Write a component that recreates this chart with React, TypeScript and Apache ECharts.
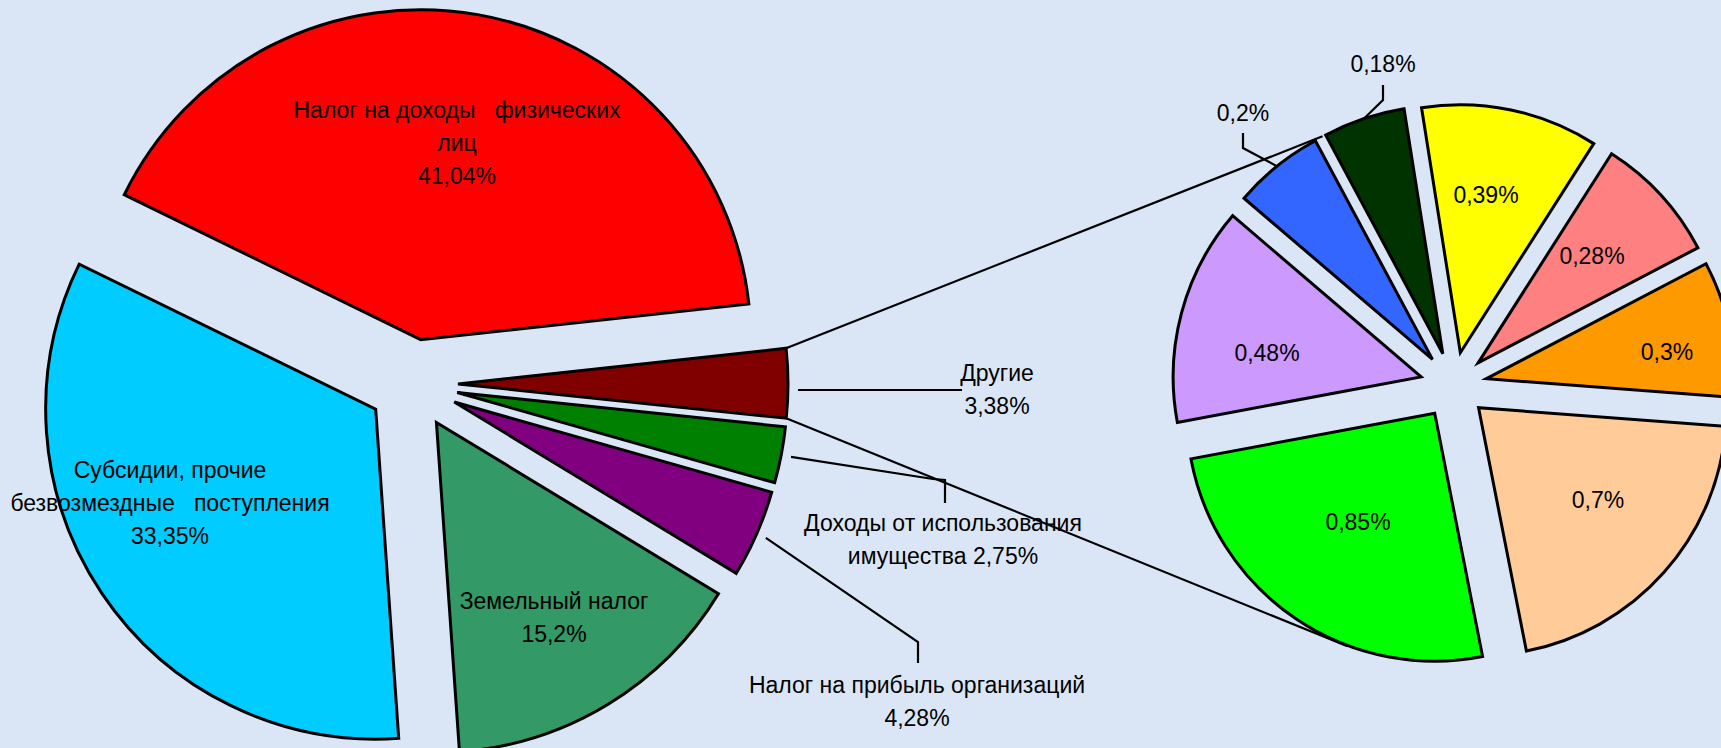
import React, { useEffect, useRef } from "react";
import * as echarts from "echarts";

// ---------- data ----------
const leftCategories = [
  "Другие",
  "Доходы от использования\nимущества",
  "Налог на прибыль организаций",
  "Земельный налог",
  "Субсидии, прочие\nбезвозмездные   поступления",
  "Налог на доходы   физических\nлиц",
];
const leftValues = [3.38, 2.75, 4.28, 15.2, 33.35, 41.04];
const leftColors = ["#800000", "#008000", "#800080", "#339966", "#00CCFF", "#FF0000"];
const leftValueSep = ["\n", " ", "\n", "\n", "\n", "\n"];

// breakdown of "Другие"
const rightCategories = ["Д1", "Д2", "Д3", "Д4", "Д5", "Д6", "Д7", "Д8"];
const rightValues = [0.39, 0.28, 0.3, 0.7, 0.85, 0.48, 0.2, 0.18];
const rightColors = ["#FFFF00", "#FF8080", "#FF9900", "#FFCC99", "#00FF00", "#CC99FF", "#3366FF", "#003300"];

// ---------- layout ----------
const FONT = '"Liberation Sans", Arial, sans-serif';
const FS = 23;
const LH = 33;
const LEFT = { center: [413, 384], r: 330, offset: 45, start: 6.2, leaderGap: 10 };
const RIGHT = { center: [1453.5, 385.5], r: 248, offset: 33.5, start: 99, leaderGap: 0 };

// where the inside labels sit (null = label drawn outside with a leader)
const leftLabelAt: (number[] | null)[] = [null, null, null, [554, 617], [170, 503], [457, 143]];
const rightLabelAt: (number[] | null)[] = [
  [1486, 195], [1592, 256], [1667, 352], [1598, 500], [1358, 522], [1267, 353], null, null,
];

// outside labels: [pie, index, labelX, labelY, leader points after start]
const outsideLabels: any[] = [
  ["L", 0, 997, 389, [[962, 390]]],
  ["L", 1, 943, 539, [[933, 479], [945, 480], [945, 503]]],
  ["L", 2, 917, 701, [[918, 642], [918, 663]]],
  ["R", 6, 1243, 113, [[1243, 148], [1243, 133]]],
  ["R", 7, 1383, 64, [[1383, 100], [1383, 85]]],
];

const fmt = (v: number) => String(v).replace(".", ",") + "%";
const rad = (d: number) => (d * Math.PI) / 180;

function sliceAngles(values: number[], start: number) {
  const sum = values.reduce((a, b) => a + b, 0);
  let a = start;
  return values.map((v) => {
    const a0 = a;
    const a1 = a - (v / sum) * 360;
    a = a1;
    return { a0, a1, mid: (a0 + a1) / 2 };
  });
}
function polar(c: number[], ang: number, r: number) {
  return [c[0] + r * Math.cos(rad(ang)), c[1] - r * Math.sin(rad(ang))];
}

function pieSeries(pie: any, values: number[], colors: string[], names: string[]) {
  return {
    type: "pie",
    center: pie.center,
    radius: [0, pie.r],
    startAngle: pie.start,
    clockwise: true,
    selectedMode: "multiple",
    selectedOffset: pie.offset,
    silent: true,
    avoidLabelOverlap: false,
    label: { show: false },
    labelLine: { show: false },
    emphasis: { disabled: true },
    itemStyle: { borderColor: "#000", borderWidth: 3, borderJoin: "miter" },
    select: { itemStyle: { borderColor: "#000", borderWidth: 3 } },
    data: values.map((v, i) => ({
      name: names[i],
      value: v,
      selected: true,
      itemStyle: { color: colors[i] },
    })),
  };
}

// one transparent copy of the pie per inside label: the copy is turned a little
// and sized so that its own "inside" label lands where the chart shows it
function labelSeries(pie: any, values: number[], names: string[], idx: number, at: number[], text: string) {
  const ang = sliceAngles(values, pie.start)[idx];
  const vx = at[0] - pie.center[0];
  const vy = pie.center[1] - at[1];
  const rho = Math.hypot(vx, vy);
  const phi = (Math.atan2(vy, vx) * 180) / Math.PI;
  let delta = phi - ang.mid;
  while (delta > 180) delta -= 360;
  while (delta < -180) delta += 360;
  const dist = rho - pie.offset;
  return {
    type: "pie",
    center: pie.center,
    radius: [0, 2 * (dist - 3)],
    startAngle: pie.start + delta,
    clockwise: true,
    selectedMode: "multiple",
    selectedOffset: pie.offset,
    silent: true,
    z: 5,
    avoidLabelOverlap: false,
    emphasis: { disabled: true },
    itemStyle: { color: "rgba(0,0,0,0)", borderWidth: 0 },
    select: { itemStyle: { color: "rgba(0,0,0,0)", borderWidth: 0 } },
    labelLine: { show: false },
    label: {
      show: true,
      position: "inside",
      color: "#000",
      fontSize: FS,
      lineHeight: LH,
      fontFamily: FONT,
      align: "center",
    },
    data: values.map((v, i) => ({
      name: names[i],
      value: v,
      selected: true,
      label: { show: i === idx, formatter: text },
    })),
  };
}

export default function App() {
  const ref = useRef<HTMLDivElement>(null);
  useEffect(() => {
    if (!ref.current) return;
    const chart = echarts.init(ref.current, null, { renderer: "svg" });

    const la = sliceAngles(leftValues, LEFT.start);
    const ra = sliceAngles(rightValues, RIGHT.start);
    const tipOf = (pie: any, ang: any) => polar(pie.center, ang.mid, pie.offset);

    // series lines: from the "Другие" slice corners, tangent to the second pie
    const o = la[0];
    const oTip = tipOf(LEFT, o);
    const pTop = polar(oTip, o.a0, LEFT.r);
    const pBot = polar(oTip, o.a1, LEFT.r);
    const R2 = RIGHT.r + RIGHT.offset;
    const vx = pBot[0] - RIGHT.center[0];
    const vy = pBot[1] - RIGHT.center[1];
    const D = Math.hypot(vx, vy);
    const th = Math.atan2(vy, vx);
    const al = Math.acos(R2 / D);
    const t1 = [RIGHT.center[0] + R2 * Math.cos(th + al), RIGHT.center[1] + R2 * Math.sin(th + al)];
    const t2 = [RIGHT.center[0] + R2 * Math.cos(th - al), RIGHT.center[1] + R2 * Math.sin(th - al)];
    const tTop = t1[1] < t2[1] ? t1 : t2;
    const tBot = t1[1] < t2[1] ? t2 : t1;

    const lineStyle = { stroke: "#000", lineWidth: 2.2 };
    const graphics: any[] = [
      { type: "line", z: 10, shape: { x1: pTop[0], y1: pTop[1], x2: tTop[0], y2: tTop[1] }, style: lineStyle },
      { type: "line", z: 10, shape: { x1: pBot[0], y1: pBot[1], x2: tBot[0], y2: tBot[1] }, style: lineStyle },
    ];

    outsideLabels.forEach(([which, idx, lx, ly, pts]) => {
      const pie = which === "L" ? LEFT : RIGHT;
      const ang = which === "L" ? la[idx] : ra[idx];
      const tp = tipOf(pie, ang);
      let start = polar(tp, ang.mid, pie.r + pie.leaderGap);
      // a single-segment leader runs horizontally to the label
      if (pts.length === 1) start = [start[0], pts[0][1]];
      const text =
        which === "L"
          ? leftCategories[idx] + leftValueSep[idx] + fmt(leftValues[idx])
          : fmt(rightValues[idx]);
      graphics.push({
        type: "polyline",
        z: 10,
        shape: { points: [start, ...pts] },
        style: { ...lineStyle, fill: null },
      });
      graphics.push({
        type: "text",
        z: 10,
        x: lx,
        y: ly,
        style: {
          text,
          fill: "#000",
          fontSize: FS,
          fontFamily: FONT,
          lineHeight: LH,
          align: "center",
          verticalAlign: "middle",
        },
      });
    });

    const series: any[] = [
      pieSeries(LEFT, leftValues, leftColors, leftCategories),
      pieSeries(RIGHT, rightValues, rightColors, rightCategories),
    ];
    leftLabelAt.forEach((at, i) => {
      if (at) {
        series.push(
          labelSeries(LEFT, leftValues, leftCategories, i, at, leftCategories[i] + leftValueSep[i] + fmt(leftValues[i]))
        );
      }
    });
    rightLabelAt.forEach((at, i) => {
      if (at) series.push(labelSeries(RIGHT, rightValues, rightCategories, i, at, fmt(rightValues[i])));
    });

    chart.setOption({
      animation: false,
      backgroundColor: "#dae6f5",
      series,
      graphic: graphics,
    });
    return () => chart.dispose();
  }, []);
  return (
    <div
      ref={ref}
      style={{ position: "absolute", left: 0, top: 0, width: 1721, height: 748 }}
    />
  );
}
